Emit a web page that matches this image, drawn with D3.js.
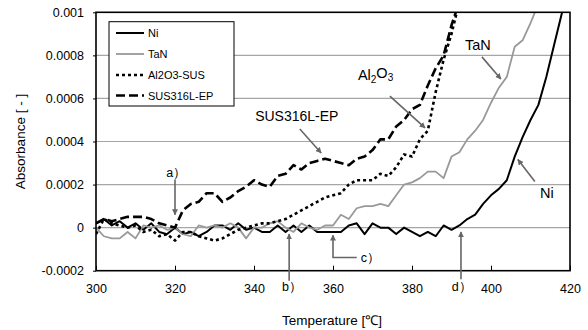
<!DOCTYPE html>
<html><head><meta charset="utf-8">
<script src="https://cdn.jsdelivr.net/npm/d3@7"></script>
<style>
body{margin:0;background:#fff;}
svg{display:block;font-family:"Liberation Sans",Arial,sans-serif;}
</style></head>
<body><svg id="c" width="588" height="330"></svg>
<script>
const temperature = d3.range(300, 421, 2);
const seriesNames = ["Ni", "TaN", "Al2O3-SUS", "SUS316L-EP"];
const ni = [0.00002,0.00004,0.00001,0.00003,0.0,0.00002,-0.00001,0.00002,-0.00002,-0.00003,
  0.0,-0.00003,-0.00002,-0.00004,-0.00002,0.00001,0.00001,-0.00001,0.00002,-0.00001,
  0.0,-0.00002,-0.00002,0.00001,-0.00002,0.00001,-0.00002,0.00001,-0.00002,-0.00002,
  -0.00002,-0.00002,0.00001,0.00002,-0.00003,0.00002,0.0,0.0,-0.00003,0.0,
  -0.00002,-0.00004,-0.00002,-0.00004,0.00001,-0.00001,0.00001,0.00004,0.00006,0.00011,
  0.00015,0.00018,0.00022,0.00033,0.00042,0.0005,0.00057,0.0007,0.00085,0.001,0.00115];
const tan = [0.0,-0.00004,-0.00005,-0.00005,-0.00002,-0.00005,0.00001,0.0,0.00001,-0.00001,
  0.0,-0.00003,-0.00004,0.00001,0.0,0.00001,0.0,0.00002,0.0,-0.00005,
  0.0,0.0,0.00002,0.00003,0.0,-0.00002,0.00002,0.0,-0.00001,0.00001,
  0.00001,0.00006,0.00004,0.00009,0.0001,0.0001,0.00011,0.0001,0.00015,0.0002,
  0.00021,0.00023,0.00026,0.00026,0.00023,0.00033,0.00035,0.00041,0.00045,0.0005,
  0.00058,0.00065,0.0007,0.00084,0.00087,0.00095,0.00104,0.0011,0.0012,0.0013,0.0014];
const al2o3 = [-0.00003,0.00004,0.00002,0.00001,0.0,0.00001,-0.00002,-0.00001,-0.00004,-0.00003,
  -0.00006,-0.00002,-0.00002,-0.00004,-0.00005,-0.00006,-0.00005,-0.00003,-0.00001,0.0,
  0.00001,0.00002,0.00002,0.00003,0.00004,0.00006,0.00008,0.0001,0.00012,0.00014,
  0.00015,0.00016,0.0002,0.00022,0.00022,0.00022,0.00025,0.00024,0.00028,0.00034,
  0.00033,0.00041,0.00045,0.00063,0.00078,0.0009,0.00105,null,null,null,
  null,null,null,null,null,null,null,null,null,null,null];
const sus316l = [0.00002,0.00004,0.00003,0.00004,0.00005,0.00005,0.00005,0.00004,0.00002,0.00001,
  0.0,0.00008,0.00011,0.00012,0.00016,0.00016,0.00012,0.00014,0.00017,0.00019,
  0.00022,0.0002,0.00019,0.00024,0.00025,0.00029,0.00027,0.0003,0.00031,0.00032,
  0.00031,0.0003,0.00029,0.00032,0.00033,0.00036,0.00041,0.00041,0.00047,0.0005,
  0.00055,0.00057,0.00066,0.00074,0.0008,0.00094,0.00105,null,null,null,
  null,null,null,null,null,null,null,null,null,null,null];
const xTicks = [300,320,340,360,380,400,420];
const yTicks = [-0.0002,0,0.0002,0.0004,0.0006,0.0008,0.001];
const yTickLabels = ["-0.0002","0","0.0002","0.0004","0.0006","0.0008","0.001"];

const svg = d3.select("#c");
const m = {l:96, t:12.3, r:18, b:59.3};
const W = 588, H = 330;
const x = d3.scaleLinear().domain([300,420]).range([m.l, W-m.r]);
const y = d3.scaleLinear().domain([-0.0002,0.001]).range([H-m.b, m.t]);

// gridlines
svg.append("g").selectAll("line").data(yTicks.filter(v=>v>-0.0002 && v<0.001)).join("line")
  .attr("x1",x(300)).attr("x2",x(420)).attr("y1",d=>y(d)).attr("y2",d=>y(d))
  .attr("stroke","#a6a6a6").attr("stroke-width",1.2);

// clip
svg.append("clipPath").attr("id","clp").append("rect")
  .attr("x",x(300)).attr("y",y(0.001)).attr("width",x(420)-x(300)).attr("height",y(-0.0002)-y(0.001));

const styles = [
  {data:ni, color:"#000", w:2, dash:null},
  {data:tan, color:"#999", w:1.8, dash:null},
  {data:al2o3, color:"#000", w:2.6, dash:"3,3"},
  {data:sus316l, color:"#000", w:2.6, dash:"9,4"}
];
const line = d3.line().defined(d=>d[1]!==null).x(d=>x(d[0])).y(d=>y(d[1]));
const lg = svg.append("g").attr("clip-path","url(#clp)");
styles.forEach(s=>{
  lg.append("path").datum(temperature.map((t,i)=>[t,s.data[i]]))
    .attr("d",line).attr("fill","none").attr("stroke",s.color)
    .attr("stroke-width",s.w).attr("stroke-dasharray",s.dash).attr("stroke-linejoin","round");
});

// frame
svg.append("rect").attr("x",x(300)).attr("y",y(0.001)).attr("width",x(420)-x(300)).attr("height",y(-0.0002)-y(0.001))
  .attr("fill","none").attr("stroke","#000").attr("stroke-width",1.6);

// x axis
const xa = svg.append("g").attr("transform",`translate(0,${y(-0.0002)})`)
  .call(d3.axisBottom(x).tickValues(xTicks).tickSize(-5).tickPadding(13).tickFormat(d3.format("d")));
xa.select(".domain").remove();
xa.selectAll(".tick line").attr("stroke","#000").attr("stroke-width",1);
xa.selectAll("text").attr("font-size",12.5).attr("fill","#000").attr("font-family","Liberation Sans, Arial, sans-serif");

// y axis
const ya = svg.append("g").attr("transform",`translate(${x(300)},0)`)
  .call(d3.axisLeft(y).tickValues(yTicks).tickSize(3).tickPadding(9).tickFormat((d,i)=>yTickLabels[i]));
ya.select(".domain").remove();
ya.selectAll(".tick line").attr("stroke","#000");
ya.selectAll("text").attr("font-size",12.5).attr("fill","#000").attr("font-family","Liberation Sans, Arial, sans-serif");

// axis titles
svg.append("text").attr("x",332).attr("y",325).attr("text-anchor","middle").attr("font-size",13.5)
  .text("Temperature [℃]");
svg.append("text").attr("transform",`translate(25,${(y(0.001)+y(-0.0002))/2}) rotate(-90)`)
  .attr("text-anchor","middle").attr("font-size",13.5).text("Absorbance [ - ]");

// legend
const leg = svg.append("g");
leg.append("rect").attr("x",109).attr("y",21.7).attr("width",125).attr("height",84.3)
  .attr("fill","#fff").attr("stroke","#000").attr("stroke-width",1);
const legY = [33,54,75,95.5];
seriesNames.forEach((n,i)=>{
  const s = styles[i];
  leg.append("line").attr("x1",116).attr("x2",144).attr("y1",legY[i]).attr("y2",legY[i])
    .attr("stroke",s.color).attr("stroke-width",s.w).attr("stroke-dasharray",s.dash);
  leg.append("text").attr("x",148).attr("y",legY[i]+4).attr("font-size",11).text(n);
});

// arrows
const defs = svg.append("defs");
defs.append("marker").attr("id","ah").attr("viewBox","0 0 10 10").attr("refX",9).attr("refY",5)
  .attr("markerWidth",6).attr("markerHeight",6).attr("markerUnits","userSpaceOnUse").attr("orient","auto")
  .append("path").attr("d","M0,0L10,5L0,10Z").attr("fill","#666");
const arrows = [
  {pts:[[320,0.000224],[320,0.00006]]},
  {pts:[[348.9,-0.000247],[348.9,-0.00003]]},
  {pts:[[366,-0.000139],[360,-0.000139],[360,-0.000035]]},
  {pts:[[392.4,-0.00024],[392.4,-0.00002]]},
  {pts:[[374.4,0.000611],[383.3,0.000463]]},
  {pts:[[397.7,0.000793],[402.5,0.00069]]},
  {pts:[[351.6,0.000458],[357,0.000347]]},
  {pts:[[411.1,0.000214],[406.8,0.000316]]}
];
const al = d3.line().x(d=>x(d[0])).y(d=>y(d[1]));
arrows.forEach(a=>{
  svg.append("path").attr("d",al(a.pts)).attr("fill","none").attr("stroke","#666")
    .attr("stroke-width",1.6).attr("marker-end","url(#ah)");
});

// labels
const labs = [
  {t:"a）",x:320.3,v:0.000256,a:"middle",fs:12.5},
  {t:"b）",x:349.6,v:-0.000276,a:"middle",fs:12.5},
  {t:"c）",x:367,v:-0.000139,a:"start",fs:12.5},
  {t:"d）",x:392.6,v:-0.000276,a:"middle",fs:12.5},
  {t:"TaN",x:393.4,v:0.00085,a:"start",fs:14.5},
  {t:"SUS316L-EP",x:340.3,v:0.000517,a:"start",fs:14},
  {t:"Ni",x:412.4,v:0.000163,a:"start",fs:14.5}
];
labs.forEach(l=>{
  svg.append("text").attr("x",x(l.x)).attr("y",y(l.v)).attr("dy","0.35em")
    .attr("text-anchor",l.a).attr("font-size",l.fs).text(l.t);
});
const alt = svg.append("text").attr("x",x(366.3)).attr("y",y(0.00071)).attr("dy","0.35em").attr("font-size",14.5);
alt.append("tspan").text("Al");
alt.append("tspan").attr("font-size",10).attr("dy","0.3em").text("2");
alt.append("tspan").attr("dy","-0.3em").text("O");
alt.append("tspan").attr("font-size",10).attr("dy","0.3em").text("3");
</script></body></html>
